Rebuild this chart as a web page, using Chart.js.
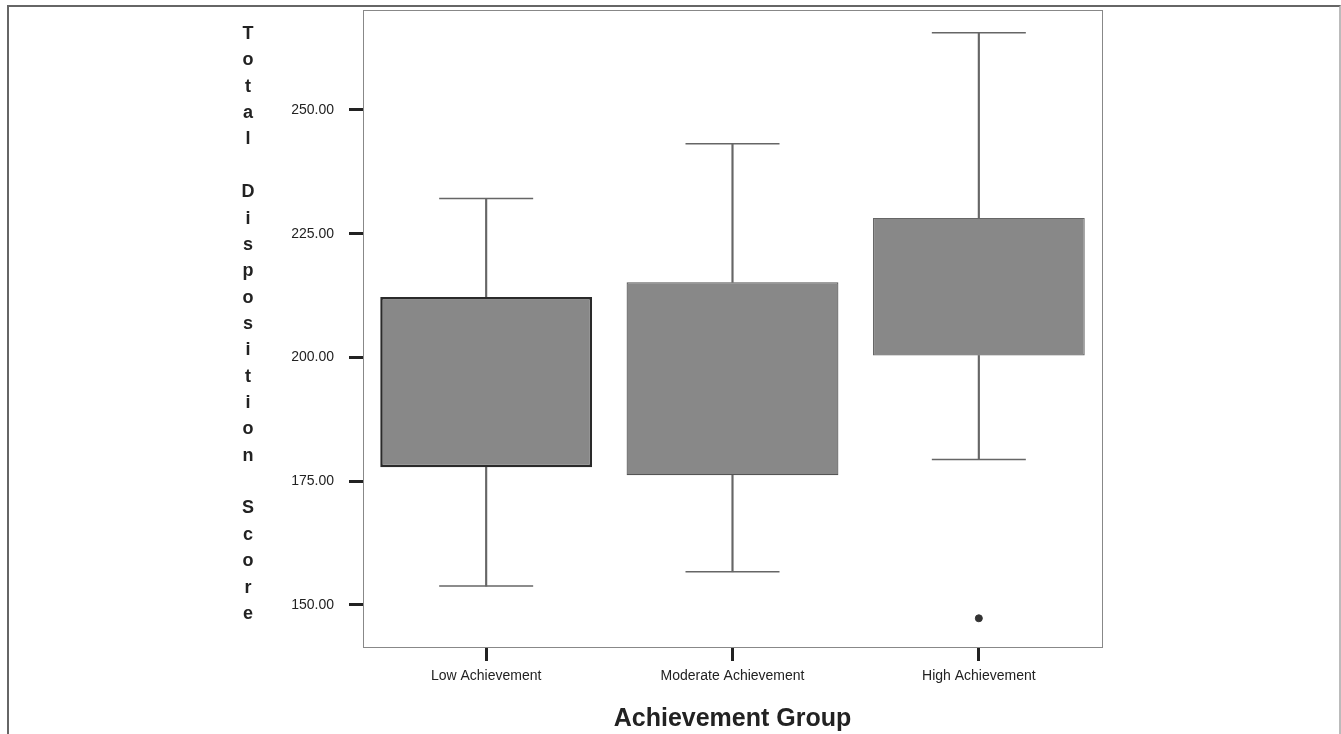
<!DOCTYPE html>
<html>
<head>
<meta charset="utf-8">
<script src="https://cdn.jsdelivr.net/npm/chart.js@4"></script>
<style>
  body { margin: 0; background: #fff; }
  #wrap { position: relative; width: 1341px; height: 734px; }
  #frame {
    position: absolute; left: 7px; top: 5px; width: 1330px; height: 740px;
    border-left: 2px solid #666; border-top: 2px solid #666; border-right: 2px solid #bbb;
    pointer-events: none;
  }
  #ytitle {
    position: absolute; left: 236px; top: 20px; width: 24px;
    font: bold 18px "Liberation Sans", Arial, sans-serif; color: #222;
    text-align: center; line-height: 26.36px;
  }
</style>
</head>
<body>
<div id="wrap">
  <canvas id="boxChart" width="1341" height="734"></canvas>
  <div id="ytitle"></div>
  <div id="frame"></div>
</div>
<script>
// dati
const groups = ['Low Achievement', 'Moderate Achievement', 'High Achievement'];
const mins = [153.8, 156.7, 179.4];
const q1 = [177.8, 176.2, 200.4];
const q3 = [212.2, 215.2, 228.2];
const maxs = [232.1, 243.2, 265.6];
const outliers = [null, null, 147.3];
const yTicks = [150, 175, 200, 225, 250];
const yTitle = 'Total Disposition Score';
const xTitle = 'Achievement Group';

// titolo verticale lettera per lettera
document.getElementById('ytitle').innerHTML =
  yTitle.split('').map(c => c === ' ' ? '&nbsp;' : c).join('<br>');

// cornice attorno all'area del grafico
const frameBox = {
  id: 'frameBox',
  afterDraw(chart) {
    const a = chart.chartArea, ctx = chart.ctx;
    ctx.save();
    ctx.strokeStyle = '#888';
    ctx.lineWidth = 1;
    ctx.strokeRect(a.left + 0.5, a.top + 0.5, a.right - a.left, a.bottom - a.top);
    ctx.restore();
  }
};

const font = { family: '"Liberation Sans", Arial, sans-serif' };

new Chart(document.getElementById('boxChart'), {
  type: 'bar',
  data: {
    labels: groups,
    datasets: [
      {
        label: 'outlier', type: 'line', data: outliers, showLine: false,
        pointStyle: 'circle', pointRadius: 3.5, pointBackgroundColor: '#333',
        pointBorderColor: '#333', order: 0
      },
      {
        label: 'box', data: groups.map((g, i) => [q1[i], q3[i]]),
        backgroundColor: '#888888', borderColor: ['#2a2a2a', '#555', '#666'],
        borderWidth: [2.5, 1.2, 1.2], borderSkipped: false,
        barPercentage: 0.86, categoryPercentage: 1, grouped: false, order: 1
      },
      {
        label: 'upper whisker', data: groups.map((g, i) => [q3[i], maxs[i]]),
        backgroundColor: '#666', barThickness: 1.5, grouped: false, order: 2
      },
      {
        label: 'lower whisker', data: groups.map((g, i) => [mins[i], q1[i]]),
        backgroundColor: '#666', barThickness: 1.5, grouped: false, order: 2
      },
      {
        label: 'max', type: 'line', data: maxs, showLine: false,
        pointStyle: 'line', pointRadius: 47, pointBorderColor: '#666',
        pointBorderWidth: 1.5, order: 2
      },
      {
        label: 'min', type: 'line', data: mins, showLine: false,
        pointStyle: 'line', pointRadius: 47, pointBorderColor: '#666',
        pointBorderWidth: 1.5, order: 2
      }
    ]
  },
  options: {
    responsive: false,
    animation: false,
    layout: { autoPadding: false, padding: { top: 10, right: 239, left: 0, bottom: 0 } },
    plugins: { legend: { display: false }, tooltip: { enabled: false } },
    scales: {
      x: {
        offset: true,
        afterFit(scale) { scale.height = 87; },
        grid: {
          offset: false, drawOnChartArea: false, tickLength: 14,
          tickWidth: 3, tickColor: '#222'
        },
        border: { color: '#888', width: 1 },
        ticks: { color: '#222', padding: 7, font: { ...font, size: 14 } },
        title: {
          display: true, text: xTitle, color: '#222',
          font: { ...font, size: 25, weight: 'bold' }, padding: { top: 4, bottom: 0 }
        }
      },
      y: {
        min: 141.5,
        max: 270.2,
        afterFit(scale) {
          scale.width = 363;
          scale.paddingTop = 0;
          scale.paddingBottom = 0;
        },
        afterBuildTicks(scale) { scale.ticks = yTicks.map(v => ({ value: v })); },
        grid: {
          drawOnChartArea: false, tickLength: 14, tickWidth: 3, tickColor: '#222'
        },
        border: { color: '#888', width: 1 },
        ticks: {
          color: '#222', padding: 15, font: { ...font, size: 14 },
          callback: v => Number(v).toFixed(2)
        }
      }
    }
  },
  plugins: [frameBox]
});
</script>
</body>
</html>
